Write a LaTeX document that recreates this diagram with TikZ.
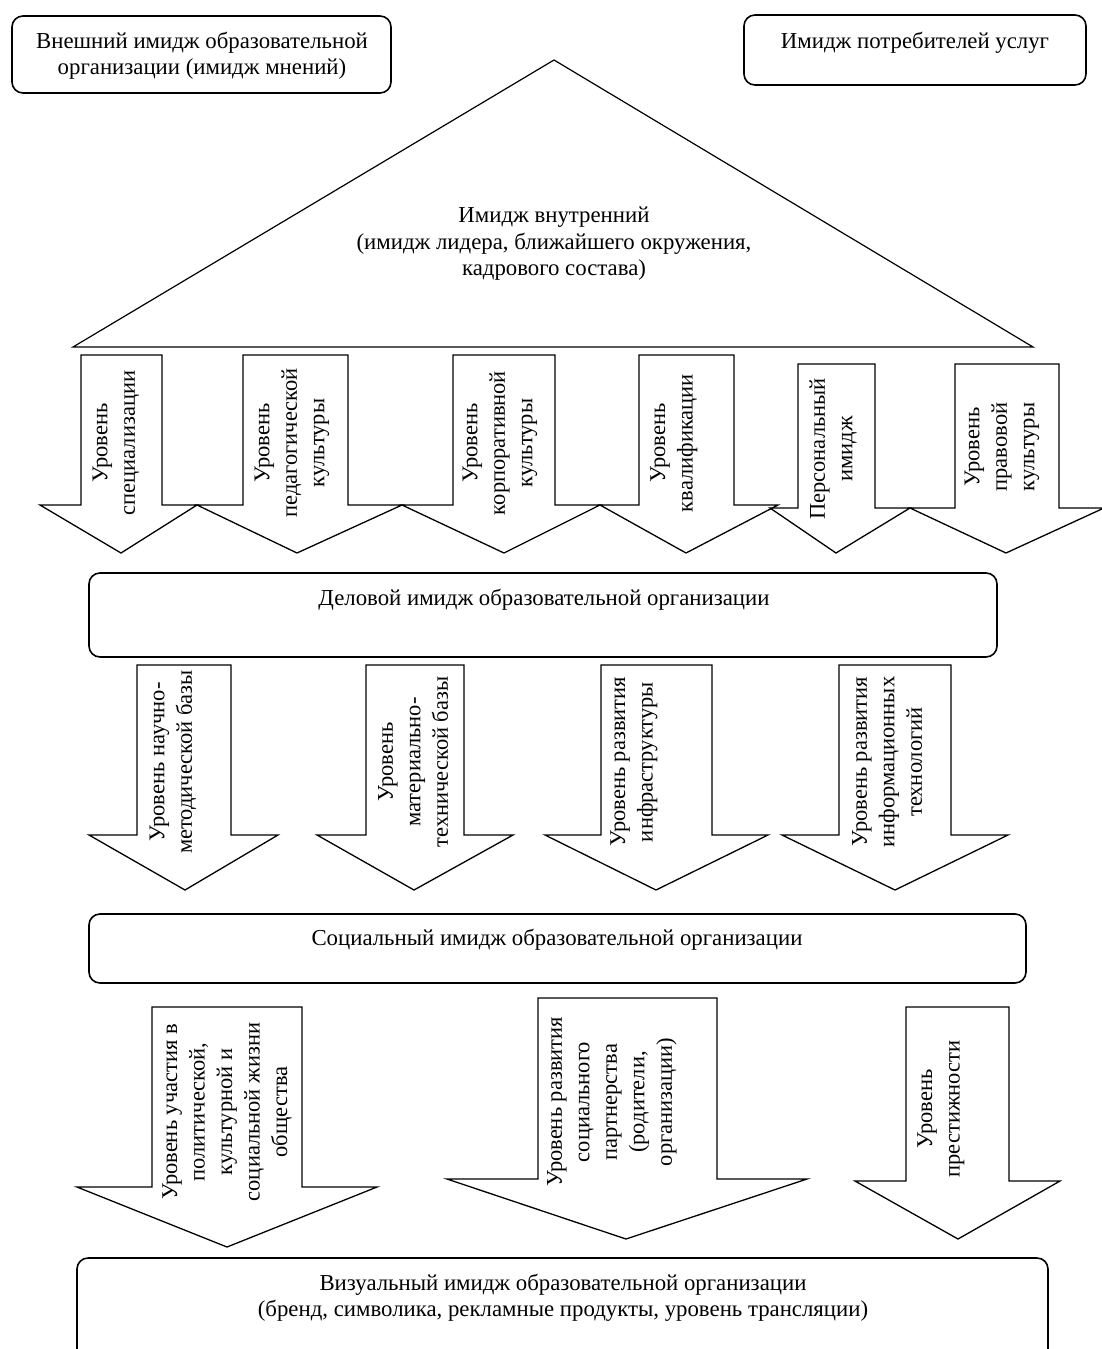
\documentclass[tikz,border=0pt]{standalone}
\usepackage{fontspec}
\setmainfont{Liberation Serif}

\begin{document}
\begin{tikzpicture}[x=1pt,y=-1pt,
  every node/.style={font=\fontsize{22.8}{26.5}\selectfont,inner sep=0pt},
  box/.style={draw,line width=1.6pt,rounded corners=11pt},
  blockarrow/.style={draw,line width=1.3pt,fill=white,line join=miter},
  vtext/.style={rotate=90,align=center,font=\fontsize{22.5}{27.5}\selectfont}]
  \useasboundingbox (0,0) rectangle (1102,1349);
  \clip (0,0) rectangle (1102,1349);
  % outer images
  \draw[box] (12,16) rectangle (391,93);
  \node[align=center] (ext) at (202,56) {Внешний имидж образовательной\\организации (имидж мнений)};
  \draw[box] (744,15) rectangle (1086,85);
  \node (cons) at (915,43) {Имидж потребителей услуг};
  % internal image
  \draw[line width=1.2pt] (554,60) -- (1033,347) -- (73,347) -- cycle;
  \node[align=center] (inner) at (554,244) {Имидж внутренний\\(имидж лидера, ближайшего окружения,\\кадрового состава)};
  % first row of levels
  \foreach \sl/\sr/\hl/\hr/\t/\b/\tx/\ty in {81/162/40/197/355/505/121/553,
      243/348/197/402/355/505/297/553, 453/555/402/600/355/505/504/553,
      639/734/600/778/355/505/686/553, 798/875/770/910/364/508/836/553,
      955/1059/910/1104/364/508/1006/553}
    \draw[blockarrow] (\sl,\t) -- (\sr,\t) -- (\sr,\b) -- (\hr,\b) -- (\tx,\ty) -- (\hl,\b) -- (\sl,\b) -- cycle;
  \foreach \n/\x/\y/\txt in {1/116/443/{Уровень\\специализации},
      2/292/443/{Уровень\\педагогической\\культуры}, 3/500/443/{Уровень\\корпоративной\\культуры},
      4/674/443/{Уровень\\квалификации}, 5/833/449/{Персональный\\имидж},
      6/1002/447/{Уровень\\правовой\\культуры}}
    \node[vtext] (a\n) at (\x,\y) {\txt};
  % business image
  \draw[box] (89,573) rectangle (997,657);
  \node (business) at (544,600) {Деловой имидж образовательной организации};
  % second row of levels
  \foreach \sl/\sr/\hl/\hr/\tx in {137/231/89/278/185, 366/464/317/513/414,
      601/712/545/768/656, 839/951/782/1008/895}
    \draw[blockarrow] (\sl,665) -- (\sr,665) -- (\sr,835) -- (\hr,835) -- (\tx,890) -- (\hl,835) -- (\sl,835) -- cycle;
  \foreach \n/\x/\txt in {1/173/{Уровень научно-\\методической базы},
      2/413/{Уровень\\материально-\\технической базы}, 3/634/{Уровень развития\\инфраструктуры},
      4/887/{Уровень развития\\информационных\\технологий}}
    \node[vtext] (b\n) at (\x,762) {\txt};
  % social image
  \draw[box] (89,914) rectangle (1026,983);
  \node (social) at (557,940) {Социальный имидж образовательной организации};
  % third row of levels
  \foreach \sl/\sr/\hl/\hr/\t/\b/\tx/\ty in {152/302/77/377/1007/1187/227/1247,
      538/717/447/807/998/1179/626/1239, 906/1009/855/1060/1007/1181/958/1239}
    \draw[blockarrow] (\sl,\t) -- (\sr,\t) -- (\sr,\b) -- (\hr,\b) -- (\tx,\ty) -- (\hl,\b) -- (\sl,\b) -- cycle;
  \foreach \n/\x/\y/\txt in {1/227/1112/{Уровень участия в\\политической,\\культурной и\\социальной жизни\\общества},
      2/612/1102/{Уровень развития\\социального\\партнерства\\(родители,\\организации)},
      3/941/1109/{Уровень\\престижности}}
    \node[vtext] (c\n) at (\x,\y) {\txt};
  % visual image
  \draw[box] (77,1258) rectangle (1048,1380);
  \node[align=center] (visual) at (563,1298) {Визуальный имидж образовательной организации\\(бренд, символика, рекламные продукты, уровень трансляции)};
\end{tikzpicture}
\end{document}
